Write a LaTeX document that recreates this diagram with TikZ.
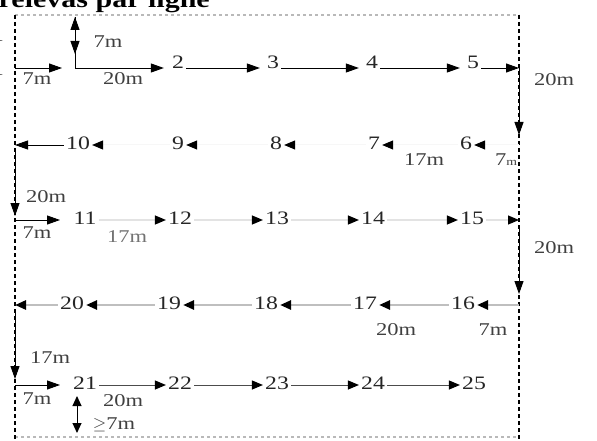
\documentclass[tikz,border=0pt]{standalone}
\usepackage{fontspec}
\setmainfont{Liberation Serif}[FakeStretch=1.25]
\usetikzlibrary{arrows.meta}
\begin{document}
\begin{tikzpicture}[x=1pt,y=-1pt,
  num/.style={font=\fontsize{19}{19}\selectfont, inner xsep=2pt, inner ysep=1pt, text=black!85},
  lbl/.style={font=\fontsize{18}{18}\selectfont, inner sep=0pt, text=black!75},
  tipA/.style={-{Triangle[length=13pt,width=9pt,color=black]}, line width=0.9pt},
  tipB/.style={-{Triangle[length=11pt,width=9pt,color=black]}},
  frame/.style={line width=1.2pt, dash pattern=on 4pt off 3pt},
  hframe/.style={gray!55, line width=1.6pt, dash pattern=on 3pt off 3pt},
  row2/.style={tipB, gray!6, line width=1pt},
  row3/.style={tipB, gray!22, line width=1.2pt},
  row4/.style={tipB, gray!50, line width=2.6pt},
  row5/.style={tipB, black!70, line width=1pt}]
\useasboundingbox (0,0) rectangle (597,441);

% frame
\coordinate (TL) at (15,15); \coordinate (TR) at (519,15);
\coordinate (BL) at (15,441); \coordinate (BR) at (519,441);
\coordinate (BL2) at (15,437); \coordinate (BR2) at (519,437);
\draw[hframe] (TL) -- (TR);
\draw[hframe] (BL2) -- (BR2);
\draw[frame] (TL) -- (BL);
\draw[frame] (TR) -- (BR);

% title and cut-off marks
\node[anchor=base east, inner sep=0pt, font=\fontsize{24}{24}\selectfont\bfseries] (title) at (210,8) {relevas par ligne};
\node[anchor=east, inner sep=0pt, font=\fontsize{17}{17}\selectfont] (cutA) at (4,36) {1};
\node[anchor=east, inner sep=0pt, font=\fontsize{17}{17}\selectfont] (cutB) at (4,70) {1};

% row baselines
\coordinate (R1) at (0,68); \coordinate (R2) at (0,145); \coordinate (R3) at (0,220);
\coordinate (R4) at (0,305); \coordinate (R5) at (0,385);

% ---------- row 1
\coordinate (s1) at (15,68); \coordinate (e1) at (62,68);
\coordinate (b1) at (75,68); \coordinate (u1) at (75,17); \coordinate (d1) at (75,54);
\coordinate (c1) at (519,68); \coordinate (c1b) at (519,135);
\node[num] (n2) at (178,62) {2};
\node[num] (n3) at (273,62) {3};
\node[num] (n4) at (372,62) {4};
\node[num] (n5) at (473,62) {5};
\draw[tipA] (s1) -- (e1);
\draw[tipA] (b1) -- (u1);
\draw[tipA] (u1) -- (d1);
\draw[tipA, shorten >=6pt] (b1) -- (n2.west |- R1);
\draw[tipA, shorten >=5pt] (n2.east |- R1) -- (n3.west |- R1);
\draw[tipA, shorten >=5pt] (n3.east |- R1) -- (n4.west |- R1);
\draw[tipA, shorten >=5pt] (n4.east |- R1) -- (n5.west |- R1);
\draw[tipA] (n5.east |- R1) -- (c1);
\draw[tipA] (c1) -- (c1b);
\node[lbl] (l7a) at (37,79) {7m};
\node[lbl] (l7b) at (108,42) {7m};
\node[lbl] (l20a) at (123,79) {20m};
\node[lbl] (l20b) at (554,80) {20m};

% ---------- row 2
\coordinate (c2) at (519,145); \coordinate (l2) at (15,145);
\node[num] (n6) at (466,143) {6};
\node[num] (n7) at (374,143) {7};
\node[num] (n8) at (276,143) {8};
\node[num] (n9) at (178,143) {9};
\node[num] (n10) at (78,143) {10};
\draw[row2] (c2) -- (n6.east |- R2);
\draw[row2] (n6.west |- R2) -- (n7.east |- R2);
\draw[row2] (n7.west |- R2) -- (n8.east |- R2);
\draw[row2] (n8.west |- R2) -- (n9.east |- R2);
\draw[row2] (n9.west |- R2) -- (n10.east |- R2);
\draw[tipA] (n10.west |- R2) -- (l2);
\node[lbl] (l17a) at (424,160) {17m};
\node[lbl] (l7c) at (506,160) {7{\fontsize{11}{11}\selectfont m}};

% left drop
\coordinate (v2a) at (15,149); \coordinate (v2b) at (15,216);
\draw[tipA] (v2a) -- (v2b);
\node[lbl] (l20c) at (46,197) {20m};

% ---------- row 3
\coordinate (s3) at (15,220); \coordinate (e3) at (60,220);
\coordinate (c3) at (519,220); \coordinate (c3a) at (519,228); \coordinate (c3b) at (519,294);
\node[num] (n11) at (85,218) {11};
\node[num] (n12) at (180,218) {12};
\node[num] (n13) at (277,218) {13};
\node[num] (n14) at (373,218) {14};
\node[num] (n15) at (472,218) {15};
\draw[tipA] (s3) -- (e3);
\draw[row3] (n11.east |- R3) -- (n12.west |- R3);
\draw[row3] (n12.east |- R3) -- (n13.west |- R3);
\draw[row3] (n13.east |- R3) -- (n14.west |- R3);
\draw[row3] (n14.east |- R3) -- (n15.west |- R3);
\draw[row3] (n15.east |- R3) -- (c3);
\draw[tipA] (c3a) -- (c3b);
\node[lbl] (l7d) at (37,233) {7m};
\node[lbl, text=black!55] (l17b) at (127,237) {17m};
\node[lbl] (l20d) at (554,248) {20m};

% ---------- row 4
\coordinate (c4) at (519,305); \coordinate (l4) at (15,305);
\node[num] (n16) at (463,303) {16};
\node[num] (n17) at (365,303) {17};
\node[num] (n18) at (266,303) {18};
\node[num] (n19) at (169,303) {19};
\node[num] (n20) at (72,303) {20};
\draw[row4] (c4) -- (n16.east |- R4);
\draw[row4] (n16.west |- R4) -- (n17.east |- R4);
\draw[row4] (n17.west |- R4) -- (n18.east |- R4);
\draw[row4] (n18.west |- R4) -- (n19.east |- R4);
\draw[row4] (n19.west |- R4) -- (n20.east |- R4);
\draw[row4] (n20.west |- R4) -- (l4);
\node[lbl] (l20e) at (396,330) {20m};
\node[lbl] (l7e) at (493,330) {7m};

% left drop
\coordinate (v4a) at (15,309); \coordinate (v4b) at (15,379);
\draw[tipA] (v4a) -- (v4b);
\node[lbl] (l17c) at (50,358) {17m};

% ---------- row 5
\coordinate (s5) at (15,385); \coordinate (e5) at (60,385);
\node[num] (n21) at (85,383) {21};
\node[num] (n22) at (180,383) {22};
\node[num] (n23) at (277,383) {23};
\node[num] (n24) at (373,383) {24};
\node[num] (n25) at (474,383) {25};
\draw[tipA] (s5) -- (e5);
\draw[row5] (n21.east |- R5) -- (n22.west |- R5);
\draw[row5] (n22.east |- R5) -- (n23.west |- R5);
\draw[row5] (n23.east |- R5) -- (n24.west |- R5);
\draw[row5] (n24.east |- R5) -- (n25.west |- R5);
\coordinate (w1) at (77,396); \coordinate (w2) at (77,433);
\draw[{Triangle[length=10pt,width=9pt]}-{Triangle[length=10pt,width=9pt]}, line width=1pt] (w1) -- (w2);
\node[lbl] (l7f) at (37,399) {7m};
\node[lbl] (l20f) at (123,401) {20m};
\node[lbl] (l7g) at (114,425) {$\geq$7m};
\end{tikzpicture}
\end{document}
